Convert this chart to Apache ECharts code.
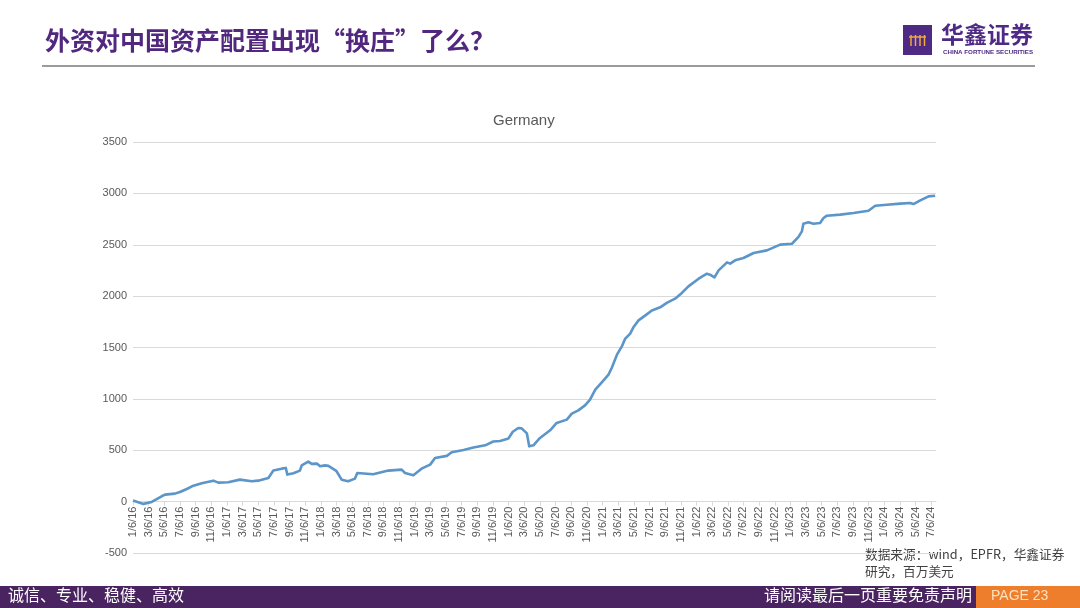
<!DOCTYPE html>
<html>
<head>
<meta charset="utf-8">
<script src="https://cdn.jsdelivr.net/npm/echarts@6/dist/echarts.min.js"></script>
<style>
html,body{margin:0;padding:0;background:#fff;}
#c{width:1080px;height:608px;}
</style>
</head>
<body>
<div id="c"></div>
<script>
// ---- data ----
const pageTitle = '外资对中国资产配置出现“换庄”了么？';
const chartTitle = 'Germany';
const yTicks = [-500, 0, 500, 1000, 1500, 2000, 2500, 3000, 3500];
const dates = [
 '2016-01-06','2016-02-16','2016-03-18','2016-04-26','2016-05-09','2016-06-17','2016-07-06','2016-08-02','2016-08-28','2016-09-30',
 '2016-11-14','2016-12-03','2017-01-11','2017-02-26','2017-04-11','2017-05-06','2017-06-15','2017-06-28','2017-07-04','2017-08-06',
 '2017-08-22','2017-08-28','2017-09-21','2017-10-16','2017-10-23','2017-11-18','2017-12-01','2017-12-21','2018-01-03','2018-01-22',
 '2018-02-05','2018-03-05','2018-03-26','2018-04-21','2018-05-17','2018-05-26','2018-07-27','2018-09-25','2018-11-16','2018-11-29',
 '2018-12-31','2019-02-02','2019-03-05','2019-03-24','2019-05-09','2019-05-28','2019-07-13','2019-08-21','2019-10-06','2019-11-07',
 '2019-12-03','2020-01-05','2020-01-22','2020-02-13','2020-02-26','2020-03-16','2020-03-25','2020-04-11','2020-05-06','2020-06-15',
 '2020-07-10','2020-08-19','2020-09-08','2020-10-03','2020-10-29','2020-11-18','2020-12-08','2021-01-03','2021-01-29','2021-02-11',
 '2021-03-01','2021-03-20','2021-04-02','2021-04-22','2021-05-05','2021-05-24','2021-06-19','2021-07-15','2021-08-17','2021-09-12',
 '2021-10-14','2021-11-10','2021-12-05','2022-01-13','2022-02-16','2022-02-28','2022-03-15','2022-03-31','2022-05-03','2022-05-15',
 '2022-06-04','2022-07-06','2022-08-15','2022-10-06','2022-11-27','2023-01-12','2023-02-07','2023-02-20','2023-02-26','2023-03-15',
 '2023-04-04','2023-04-30','2023-05-13','2023-05-26','2023-07-17','2023-09-08','2023-11-05','2023-12-01','2024-01-16','2024-03-07',
 '2024-04-15','2024-04-28','2024-05-24','2024-06-26','2024-07-21'
];
const values = [
 10,-22,-3,52,68,78,94,123,155,178,
 204,185,188,214,198,204,230,279,302,321,
 328,263,276,302,353,390,367,370,344,353,
 348,300,214,198,224,279,266,302,311,279,
 256,321,360,425,445,480,503,527,548,585,
 590,615,680,717,713,664,538,548,620,694,
 766,798,856,888,937,992,1090,1161,1236,1301,
 1430,1511,1583,1635,1700,1764,1810,1861,1891,1934,
 1975,2031,2095,2167,2218,2209,2183,2251,2329,2316,
 2348,2371,2420,2445,2501,2510,2576,2630,2705,2718,
 2705,2711,2760,2783,2793,2809,2831,2880,2890,2900,
 2906,2896,2932,2971,2977
];
const axisEndMonths = 102.6;
const sourceLines = ['数据来源：wind，EPFR，华鑫证券', '研究，百万美元'];
const footerLeft = '诚信、专业、稳健、高效';
const footerRight = '请阅读最后一页重要免责声明';
const pageLabel = 'PAGE 23';

// months since 1/6/16 (calendar based, so tick k lands on the 6th of a month)
function monthIndex(s) {
  const [y, m, d] = s.split('-').map(Number);
  return (y - 2016) * 12 + (m - 1) + (d - 6) / 30.44;
}
const seriesData = dates.map((d, i) => [monthIndex(d), values[i]]);

const gridTop = 142, gridBottom = 55, H = 608;
const yMin = yTicks[0], yMax = yTicks[yTicks.length - 1];
// shift the category axis up so it sits on the zero line (as in the reference)
const zeroOffset = -((0 - yMin) / (yMax - yMin)) * (H - gridTop - gridBottom);

const purple = '#51287e';
const chart = echarts.init(document.getElementById('c'), null, {renderer: 'canvas'});
chart.setOption({
  backgroundColor: '#ffffff',
  animation: false,
  title: {
    text: chartTitle, left: 488, top: 108,
    textStyle: {fontFamily: 'Liberation Sans', fontSize: 15, fontWeight: 'normal', color: '#595959'}
  },
  grid: {left: 133, right: 144, top: gridTop, bottom: gridBottom, containLabel: false},
  xAxis: {
    type: 'value', min: 0, max: axisEndMonths, interval: 2,
    offset: zeroOffset,
    axisLine: {show: true, onZero: false, lineStyle: {color: '#d9d9d9', width: 1}},
    axisTick: {show: true, length: 4, lineStyle: {color: '#d9d9d9'}},
    splitLine: {show: false},
    axisLabel: {
      rotate: 90, margin: 5, showMaxLabel: false,
      fontFamily: 'Liberation Sans', fontSize: 11, color: '#595959',
      formatter: function (v) {
        if (Math.abs(v - Math.round(v)) > 1e-6 || Math.round(v) % 2 !== 0) return '';
        const k = Math.round(v);
        return (k % 12 + 1) + '/6/' + (16 + Math.floor(k / 12));
      }
    }
  },
  yAxis: {
    type: 'value', min: yMin, max: yMax, interval: 500,
    axisLine: {show: false}, axisTick: {show: false},
    splitLine: {lineStyle: {color: '#d9d9d9', width: 1}},
    axisLabel: {margin: 6, fontFamily: 'Liberation Sans', fontSize: 11, color: '#595959',
      formatter: v => String(v)}
  },
  series: [{
    type: 'line', data: seriesData, showSymbol: false, symbol: 'none',
    lineStyle: {color: '#5b95c9', width: 2.6, join: 'round'}
  }],
  graphic: [
    {type: 'text', left: 45, top: 28, style: {text: pageTitle, fill: purple,
      font: 'bold 25px "Noto Sans CJK SC"'}},
    {type: 'line', shape: {x1: 42, y1: 66, x2: 1035, y2: 66}, style: {stroke: '#7a7a7a', lineWidth: 1.5}},
    {type: 'rect', shape: {x: 903, y: 25, width: 29, height: 30}, style: {fill: '#4e2a84'}},
    {type: 'polyline', shape: {points: [[909,37],[926,37]]}, style: {stroke: '#f2a93b', lineWidth: 1.5}},
    {type: 'polyline', shape: {points: [[911,35],[911,46]]}, style: {stroke: '#f2a93b', lineWidth: 1.5}},
    {type: 'polyline', shape: {points: [[915.5,35],[915.5,46]]}, style: {stroke: '#f2a93b', lineWidth: 1.5}},
    {type: 'polyline', shape: {points: [[920,35],[920,46]]}, style: {stroke: '#f2a93b', lineWidth: 1.5}},
    {type: 'polyline', shape: {points: [[924.5,35],[924.5,46]]}, style: {stroke: '#f2a93b', lineWidth: 1.5}},
    {type: 'text', left: 941, top: 23, style: {text: '华鑫证券', fill: '#4e2a84',
      font: 'bold 23px "Noto Sans CJK SC"'}},
    {type: 'text', left: 943, top: 49, style: {text: 'CHINA FORTUNE SECURITIES', fill: '#4e2a84',
      font: 'bold 6.2px "Liberation Sans"'}},
    {type: 'text', left: 865, top: 548, style: {text: sourceLines[0], fill: '#404040',
      font: '12.7px "Noto Sans CJK SC"'}},
    {type: 'text', left: 865, top: 565, style: {text: sourceLines[1], fill: '#404040',
      font: '12.7px "Noto Sans CJK SC"'}},
    {type: 'rect', shape: {x: 0, y: 586, width: 976, height: 22}, style: {fill: '#4a2461'}},
    {type: 'rect', shape: {x: 976, y: 586, width: 104, height: 22}, style: {fill: '#ee7d2c'}},
    {type: 'text', left: 8, top: 587, style: {text: footerLeft, fill: '#ffffff',
      font: '16px "Noto Sans CJK SC"'}},
    {type: 'text', right: 108, top: 587, style: {text: footerRight, fill: '#ffffff',
      font: '16px "Noto Sans CJK SC"'}},
    {type: 'text', left: 991, top: 589, style: {text: pageLabel, fill: '#fde2bf',
      font: '14px "Liberation Sans"'}}
  ]
});
</script>
</body>
</html>
